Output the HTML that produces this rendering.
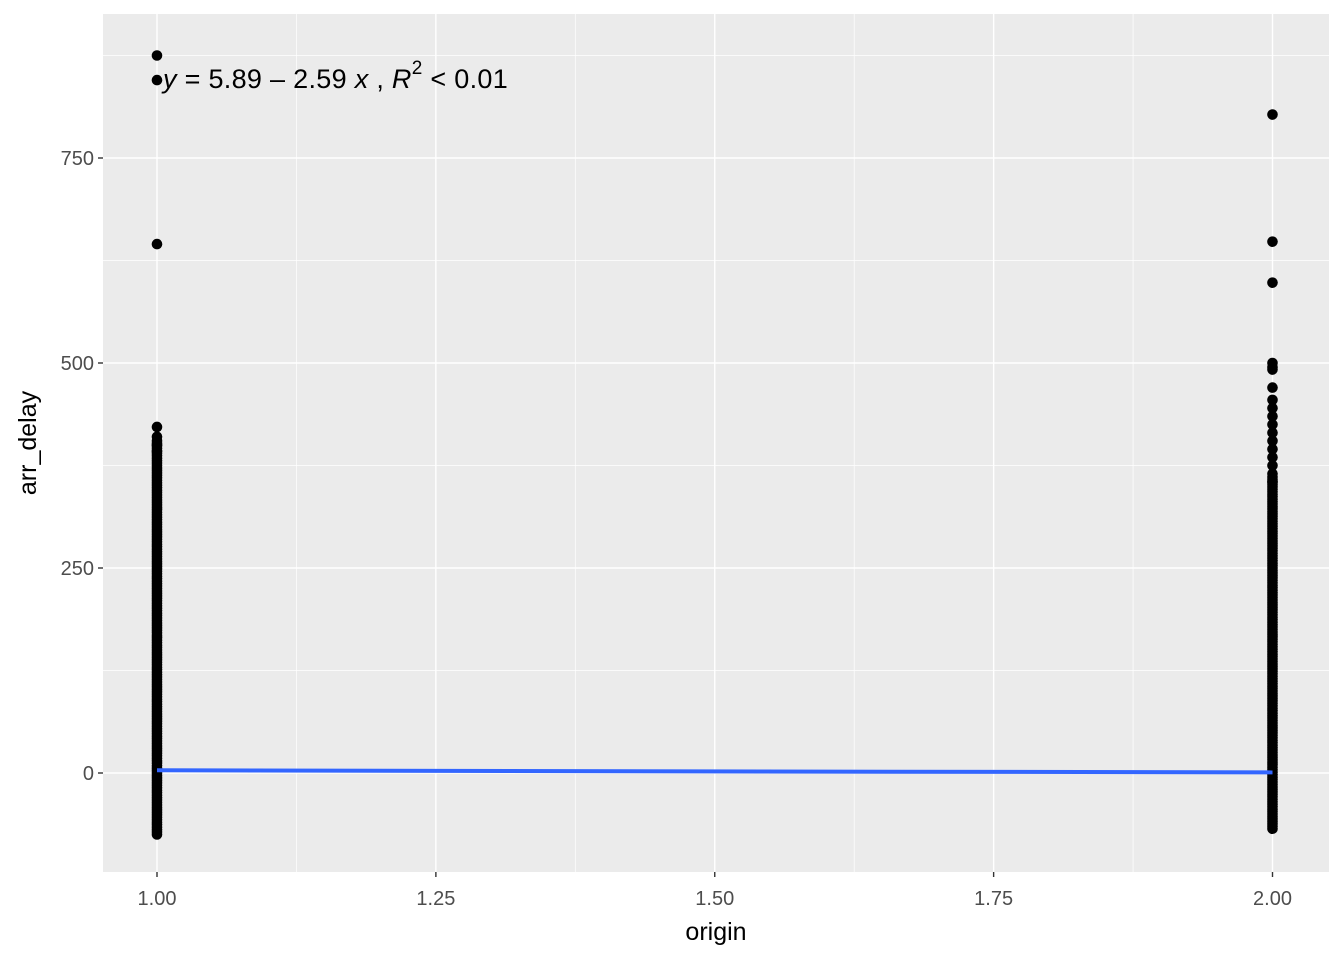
<!DOCTYPE html>
<html><head><meta charset="utf-8"><style>
body{margin:0;background:#fff;font-family:"Liberation Sans",sans-serif}
</style></head><body>
<svg id="c" width="1344" height="960" xmlns="http://www.w3.org/2000/svg"></svg>
<script>
const xTicks=[1,1.25,1.5,1.75,2];
const xTickLabels=["1.00","1.25","1.50","1.75","2.00"];
const yTicks=[0,250,500,750];
const yTickLabels=["0","250","500","750"];
const denseOrigin=[1,2];
const denseMin=[-75,-68];
const denseMax=[405,362];
const outlierOrigin=[1,1,1,1,1,1,1,2,2,2,2,2,2,2,2,2,2,2,2,2,2,2,2,2,2];
const outlierDelay=[875,845,645,422,410,400,392,803,648,598,500,495,492,470,455,445,435,425,415,405,395,385,375,365,355];
const intercept=5.89, slope=-2.59;
const px0=103,px1=1329,py0=14,py1=872;
const X=v=>157+(v-1)*1115.5;
const Y=v=>773-v*0.82;
const svg=document.getElementById('c');
const NS='http://www.w3.org/2000/svg';
function mk(t,a,p){const e=document.createElementNS(NS,t);for(const k in a)e.setAttribute(k,a[k]);(p||svg).appendChild(e);return e;}
let e=mk('rect',{x:px0,y:py0,width:px1-px0,height:py1-py0,fill:'#EBEBEB'});


for(let i=0;i<xTicks.length-1;i++){const m=(xTicks[i]+xTicks[i+1])/2;e=mk('line',{x1:X(m),x2:X(m),y1:py0,y2:py1,stroke:'#fff','stroke-width':0.7});}
const ym=[-125,125,375,625,875];
for(const m of ym){const y=Y(m);if(y<py0||y>py1)continue;e=mk('line',{x1:px0,x2:px1,y1:y,y2:y,stroke:'#fff','stroke-width':0.7});}
xTicks.forEach((t,i)=>{
 e=mk('line',{x1:X(t),x2:X(t),y1:py0,y2:py1,stroke:'#fff','stroke-width':1.4});
 e=mk('line',{x1:X(t),x2:X(t),y1:py1,y2:py1+5,stroke:'#333','stroke-width':1.4});
 e=mk('text',{x:X(t),y:905,'text-anchor':'middle','font-size':20,fill:'#4D4D4D'});e.textContent=xTickLabels[i];
});
yTicks.forEach((t,i)=>{
 e=mk('line',{x1:px0,x2:px1,y1:Y(t),y2:Y(t),stroke:'#fff','stroke-width':1.4});
 e=mk('line',{x1:px0-5,x2:px0,y1:Y(t),y2:Y(t),stroke:'#333','stroke-width':1.4});
 e=mk('text',{x:px0-9,y:Y(t)+7,'text-anchor':'end','font-size':20,fill:'#4D4D4D'});e.textContent=yTickLabels[i];
});
const g=mk('g',{fill:'#000'});


denseOrigin.forEach((o,i)=>{for(let v=denseMin[i];v<=denseMax[i];v+=3){const c=mk('circle',{cx:X(o),cy:Y(v),r:5.3},g);}});
outlierOrigin.forEach((o,i)=>{const c=mk('circle',{cx:X(o),cy:Y(outlierDelay[i]),r:5.3},g);});
e=mk('line',{x1:X(1),x2:X(2),y1:Y(intercept+slope),y2:Y(intercept+slope*2),stroke:'#3366FF','stroke-width':4});


e=mk('text',{x:163,y:88,'font-size':27,fill:'#000','letter-spacing':'0.3'});
e.innerHTML='<tspan font-style="italic">y</tspan> = 5.89 – 2.59 <tspan font-style="italic">x</tspan> , <tspan font-style="italic">R</tspan><tspan dy="-14" font-size="19">2</tspan><tspan dy="14"> &lt; 0.01</tspan>';


e=mk('text',{x:716,y:940,'text-anchor':'middle','font-size':25,fill:'#000'});e.textContent='origin';


e=mk('text',{x:0,y:0,'text-anchor':'middle','font-size':25,fill:'#000',transform:'translate(36,443) rotate(-90)'});e.textContent='arr_delay';


</script>
</body></html>
